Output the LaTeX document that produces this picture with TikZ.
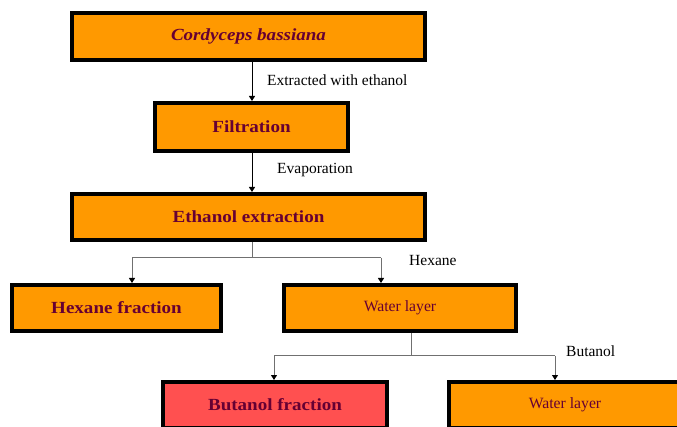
\documentclass[tikz,border=0pt]{standalone}
\usepackage{fontspec}
\setmainfont{Liberation Serif}
\newfontfamily\widefont[FakeStretch=1.12]{Liberation Serif}
\usetikzlibrary{arrows.meta,calc}
\definecolor{boxorange}{HTML}{FF9900}
\definecolor{boxred}{HTML}{FF5050}
\definecolor{maroon}{HTML}{660033}
\definecolor{lineg}{HTML}{707070}
\tikzset{
  box/.style={draw=black, line width=4pt, fill=boxorange, text=maroon,
    inner sep=0pt, font=\widefont\fontsize{17}{20}\selectfont\bfseries},
  plainbox/.style={box, font=\rmfamily\mdseries\fontsize{15.7}{18}\selectfont},
  lbl/.style={anchor=west, inner sep=0pt, font=\fontsize{15.5}{18}\selectfont},
  conn/.style={draw=lineg, line width=1pt},
  arr/.style={conn, -{Triangle[length=5pt,width=6pt,color=black]}}
}
\begin{document}
\begin{tikzpicture}[x=1pt,y=-1pt]
\useasboundingbox (0,0) rectangle (677,427);
\node[box, minimum width=353pt, minimum height=47pt] (b1) at (248.5,36.5) {\itshape Cordyceps bassiana};
\node[box, minimum width=193pt, minimum height=48pt] (b2) at (251.5,127) {Filtration};
\node[box, minimum width=353pt, minimum height=46pt] (b3) at (248.5,217) {Ethanol extraction};
\node[box, minimum width=209pt, minimum height=46pt] (b4) at (116.5,308) {Hexane fraction};
\node[plainbox, minimum width=232pt, minimum height=46pt] (b5) at (400,308) {Water layer};
\node[box, fill=boxred, minimum width=224pt, minimum height=46pt] (b6) at (275,405) {Butanol fraction};
\node[plainbox, minimum width=232pt, minimum height=46pt] (b7) at (565,405) {Water layer};

\draw[arr, draw=black] ($(b1.south)+(3.5,0)$) -- ($(b2.north)+(0.5,0)$);
\draw[arr, draw=black] ($(b2.south)+(0.5,0)$) -- ($(b3.north)+(3.5,0)$);

\coordinate (j1) at ($(b3.south)+(3.5,16)$);
\draw[conn] ($(b3.south)+(3.5,0)$) -- (j1);
\coordinate (t4) at ($(b4.north)+(15.5,0)$);
\coordinate (t5) at ($(b5.north)+(-19,0)$);
\draw[conn] (t4 |- j1) -- (t5 |- j1);
\draw[arr] (t4 |- j1) -- (t4);
\draw[arr] (t5 |- j1) -- (t5);

\coordinate (j2) at ($(b5.south)+(11,23)$);
\draw[conn] ($(b5.south)+(11,0)$) -- (j2);
\coordinate (t6) at ($(b6.north)+(-1,0)$);
\coordinate (t7) at ($(b7.north)+(-10,0)$);
\draw[conn] (t6 |- j2) -- (t7 |- j2);
\draw[arr] (t6 |- j2) -- (t6);
\draw[arr] (t7 |- j2) -- (t7);

\node[lbl] (l1) at (267,80) {Extracted with ethanol};
\node[lbl] (l2) at (277,170) {Evaporation};
\node[lbl] (l3) at (409,261) {Hexane};
\node[lbl] (l4) at (566,351) {Butanol};
\end{tikzpicture}
\end{document}
